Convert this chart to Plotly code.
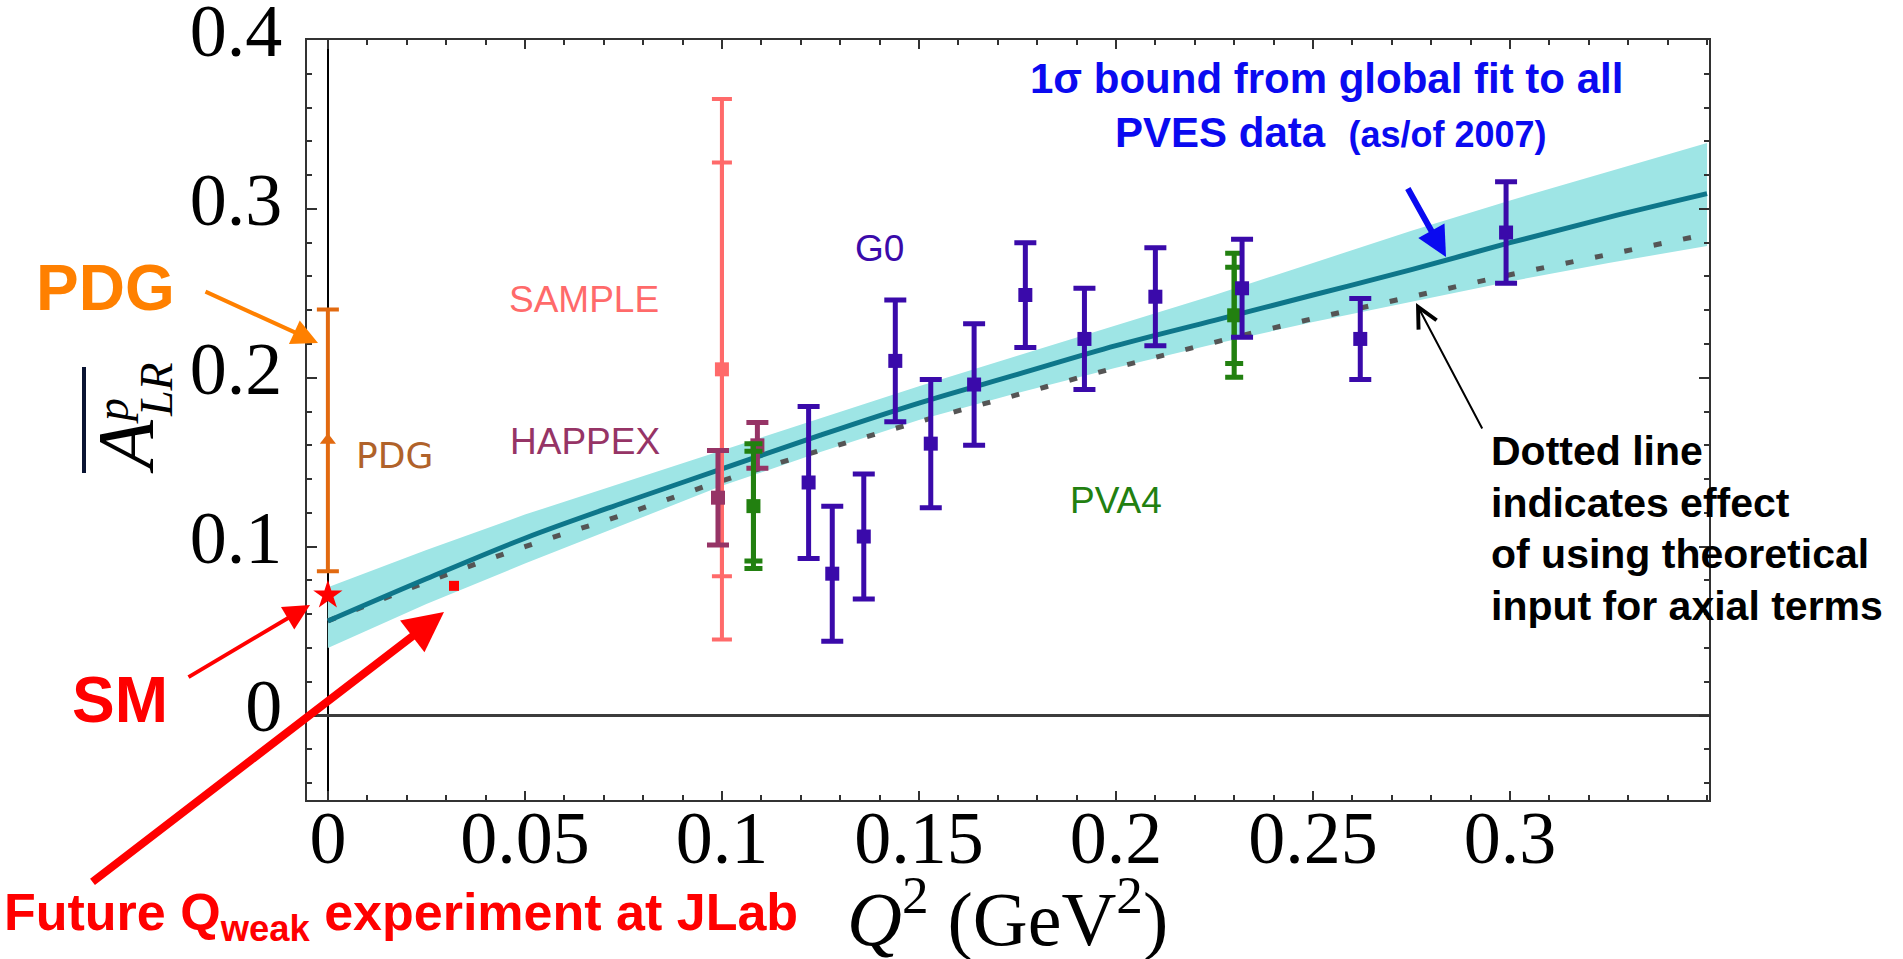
import plotly.graph_objects as go

# ---------------- data ----------------
q2_curve = [0, 0.025, 0.05, 0.075, 0.1, 0.125, 0.15, 0.175, 0.2, 0.225, 0.25, 0.275, 0.3, 0.325, 0.35]
fit_central = [0.056, 0.081, 0.105, 0.126, 0.146, 0.166, 0.185, 0.202, 0.219, 0.234, 0.249, 0.264, 0.280, 0.295, 0.309]
fit_upper = [0.076, 0.098, 0.119, 0.138, 0.157, 0.176, 0.195, 0.213, 0.231, 0.249, 0.268, 0.287, 0.305, 0.322, 0.339]
fit_lower = [0.040, 0.066, 0.090, 0.113, 0.136, 0.156, 0.175, 0.191, 0.206, 0.220, 0.233, 0.245, 0.257, 0.268, 0.278]
theory_axial = [0.056, 0.079, 0.100, 0.119, 0.139, 0.157, 0.174, 0.190, 0.206, 0.221, 0.235, 0.248, 0.261, 0.273, 0.285]

g0_q2 = [0.122, 0.128, 0.136, 0.144, 0.153, 0.164, 0.177, 0.192, 0.210, 0.232, 0.262, 0.299]
g0_a = [0.138, 0.084, 0.106, 0.210, 0.161, 0.196, 0.249, 0.223, 0.248, 0.253, 0.223, 0.286]
g0_err = [0.045, 0.040, 0.037, 0.036, 0.038, 0.036, 0.031, 0.030, 0.029, 0.029, 0.024, 0.030]

sample_q2 = [0.1]
sample_a = [0.205]
sample_err_stat = [0.1225]
sample_err_tot = [0.160]

happex_q2 = [0.099, 0.109]
happex_a = [0.129, 0.160]
happex_err = [0.028, 0.0135]

pva4_q2 = [0.108, 0.230]
pva4_a = [0.124, 0.237]
pva4_err_in = [0.0325, 0.0285]
pva4_err_out = [0.037, 0.0367]

pdg_q2 = [0.0]
pdg_a = [0.163]
pdg_err = [0.0775]

sm_q2 = [0.0]
sm_a = [0.0713]

qweak_q2 = [0.032]
qweak_a = [0.0768]

x_tickvals = [0, 0.05, 0.1, 0.15, 0.2, 0.25, 0.3]
x_ticktext = ["0", "0.05", "0.1", "0.15", "0.2", "0.25", "0.3"]
y_tickvals = [0, 0.1, 0.2, 0.3, 0.4]
y_ticktext = ["0", "0.1", "0.2", "0.3", "0.4"]

# ---------------- colours ----------------
C_BAND = "rgb(158,229,229)"
C_CURVE = "rgb(14,118,138)"
C_DOT = "rgb(85,85,85)"
C_G0 = "rgb(58,10,170)"
C_SAMPLE = "rgb(255,106,106)"
C_HAPPEX = "rgb(150,52,102)"
C_PVA4 = "rgb(34,128,16)"
C_PDG = "rgb(226,106,16)"
C_RED = "rgb(255,0,0)"
C_BLUE = "rgb(10,10,240)"

W, H = 1903, 959
L, R, T, B = 307, 1709, 40, 800


def px(X):
    return (X - L) / (R - L)


def py(Y):
    return (B - Y) / (B - T)


fig = go.Figure()

# band
fig.add_trace(go.Scatter(x=q2_curve, y=fit_lower, mode="lines", line=dict(width=0, color=C_BAND),
                         showlegend=False, hoverinfo="skip"))
fig.add_trace(go.Scatter(x=q2_curve, y=fit_upper, mode="lines", line=dict(width=0, color=C_BAND),
                         fill="tonexty", fillcolor=C_BAND, showlegend=False, hoverinfo="skip"))
# dotted theory line
fig.add_trace(go.Scatter(x=q2_curve, y=theory_axial, mode="lines", line_shape="spline",
                         line=dict(color=C_DOT, width=5, dash="8px,22px"), showlegend=False))
# central fit
fig.add_trace(go.Scatter(x=q2_curve, y=fit_central, mode="lines", line_shape="spline",
                         line=dict(color=C_CURVE, width=5), showlegend=False))


def err_trace(x, y, err, color, size, symbol="square", thick=5, cap=11):
    return go.Scatter(x=x, y=y, mode="markers",
                      marker=dict(symbol=symbol, size=size, color=color, line=dict(width=0)),
                      error_y=dict(type="data", array=err, visible=True, color=color,
                                   thickness=thick, width=cap),
                      showlegend=False)


# SAMPLE
fig.add_trace(err_trace(sample_q2, sample_a, sample_err_tot, C_SAMPLE, 1, thick=4, cap=10))
fig.add_trace(err_trace(sample_q2, sample_a, sample_err_stat, C_SAMPLE, 14, thick=4, cap=10))
# HAPPEX
fig.add_trace(err_trace(happex_q2, happex_a, happex_err, C_HAPPEX, 14, thick=5, cap=11))
# PVA4
fig.add_trace(err_trace(pva4_q2, pva4_a, pva4_err_out, C_PVA4, 1, thick=5, cap=9))
fig.add_trace(err_trace(pva4_q2, pva4_a, pva4_err_in, C_PVA4, 14, thick=5, cap=9))
# G0
fig.add_trace(err_trace(g0_q2, g0_a, g0_err, C_G0, 14, thick=5, cap=11))
# PDG
fig.add_trace(err_trace(pdg_q2, pdg_a, pdg_err, C_PDG, 14, symbol="triangle-up", thick=4, cap=11))
# SM star
fig.add_trace(go.Scatter(x=sm_q2, y=sm_a, mode="markers",
                         marker=dict(symbol="star", size=22, color=C_RED, line=dict(width=0)),
                         showlegend=False, cliponaxis=False))
# Qweak future point
fig.add_trace(go.Scatter(x=qweak_q2, y=qweak_a, mode="markers",
                         marker=dict(symbol="square", size=10, color=C_RED, line=dict(width=0)),
                         showlegend=False))

SERIF = "Liberation Serif, Times New Roman, serif"
SANS = "Liberation Sans, Arial, sans-serif"

ann = []


def label(x, y, text, font, ref="paper", xanchor="center", textangle=0):
    if ref == "paper":
        return dict(x=px(x), y=py(y), xref="paper", yref="paper", text=text, showarrow=False,
                    xanchor=xanchor, yanchor="middle", font=font, textangle=textangle)
    return dict(x=x, y=y, xref="x", yref="y", text=text, showarrow=False,
                xanchor=xanchor, yanchor="middle", font=font, textangle=textangle)


# in-plot experiment labels
ann.append(label(0.065, 0.2465, "SAMPLE", dict(family=SANS, size=37, color=C_SAMPLE), ref="data"))
ann.append(label(0.0652, 0.1624, "HAPPEX", dict(family=SANS, size=37, color=C_HAPPEX), ref="data"))
ann.append(label(0.140, 0.2766, "G0", dict(family=SANS, size=37, color=C_G0), ref="data"))
ann.append(label(0.200, 0.1275, "PVA4", dict(family=SANS, size=37, color=C_PVA4), ref="data"))
ann.append(label(0.0168, 0.154, "PDG", dict(family="DejaVu Sans", size=36, color="rgb(176,98,42)"),
                 ref="data"))

# outside annotations
ann.append(label(105, 288, "<b>PDG</b>", dict(family=SANS, size=64, color="rgb(255,128,0)")))
ann.append(label(120, 700, "<b>SM</b>", dict(family=SANS, size=64, color=C_RED)))
ann.append(label(2, 916, "<b>Future Q<sub>weak</sub> experiment at JLab</b>",
                 dict(family=SANS, size=52, color=C_RED), xanchor="left"))
ann.append(label(1326, 78, "<b>1σ bound from global fit to all</b>",
                 dict(family=SANS, size=42, color=C_BLUE)))
ann.append(label(1331, 132,
                 "<b>PVES data&nbsp;&nbsp;<span style='font-size:36px'>(as/of 2007)</span></b>",
                 dict(family=SANS, size=42, color=C_BLUE)))
for i, line in enumerate(["Dotted line", "indicates effect", "of using theoretical",
                          "input for axial terms"]):
    ann.append(label(1489, 451 + 51.5 * i, "<b>" + line + "</b>",
                     dict(family=SANS, size=41, color="black"), xanchor="left"))

# axis titles
ann.append(label(1007, 914, "<i>Q</i><sup>2</sup> (GeV<sup>2</sup>)",
                 dict(family=SERIF, size=76, color="black")))
ann.append(label(126, 446, "<i>A</i>", dict(family=SERIF, size=80, color="black"), textangle=-90))
ann.append(label(112, 411, "<i>p</i>", dict(family=SERIF, size=46, color="black"), textangle=-90))
ann.append(label(156, 390, "<i>LR</i>", dict(family=SERIF, size=46, color="black"), textangle=-90))


# arrows
def arrow(hx, hy, tx, ty, color, width, head=2, size=1.0):
    return dict(x=px(hx), y=py(hy), xref="paper", yref="paper", ax=tx - hx, ay=ty - hy,
                axref="pixel", ayref="pixel", text="", showarrow=True, arrowhead=head,
                arrowsize=size, arrowwidth=width, arrowcolor=color, standoff=0, startstandoff=0)


ann.append(arrow(318, 343, 204, 291, "rgb(255,128,0)", 4, head=2, size=1.3))
ann.append(arrow(310, 605, 187, 678, C_RED, 4, head=2, size=1.3))
ann.append(arrow(444, 612, 91, 883, C_RED, 8, head=2, size=1.0))
ann.append(arrow(1446, 257, 1407, 187, C_BLUE, 6, head=2, size=1.0))
ann.append(arrow(1416, 303, 1483, 430, "black", 2, head=5, size=2.0))

shapes = [
    # overline of the y-axis symbol
    dict(type="line", xref="paper", yref="paper", x0=px(84), x1=px(84), y0=py(367), y1=py(473),
         line=dict(color="rgb(10,20,50)", width=4)),
]

axis_common = dict(showgrid=False, showline=True, mirror="ticks", linecolor="rgb(50,50,50)",
                   linewidth=2, ticks="inside", tickcolor="rgb(50,50,50)", tickwidth=2,
                   tickfont=dict(family=SERIF, size=74, color="black"), ticklabeloverflow="allow",
                   automargin=False)

fig.update_layout(
    width=W, height=H,
    margin=dict(l=L, r=W - R, t=T, b=H - B, pad=0, autoexpand=False),
    paper_bgcolor="white", plot_bgcolor="white",
    xaxis=dict(range=[-0.0053, 0.3505], tickmode="array", tickvals=x_tickvals, ticktext=x_ticktext,
               ticklen=9, zeroline=True, zerolinecolor="black", zerolinewidth=2,
               minor=dict(dtick=0.01, tick0=0, ticks="inside", ticklen=5, tickcolor="rgb(50,50,50)",
                          tickwidth=1.5, showgrid=False),
               ticklabelstandoff=-28, **axis_common),
    yaxis=dict(range=[-0.05, 0.4], tickmode="array", tickvals=y_tickvals, ticktext=y_ticktext,
               ticklen=10, zeroline=True, zerolinecolor="rgb(60,60,60)", zerolinewidth=3,
               minor=dict(dtick=0.02, tick0=0, ticks="inside", ticklen=5, tickcolor="rgb(50,50,50)",
                          tickwidth=1.5, showgrid=False),
               ticklabelstandoff=8, ticklabelshift=-10, **axis_common),
    annotations=ann,
    shapes=shapes,
    showlegend=False,
)

fig.write_html("out.html")
